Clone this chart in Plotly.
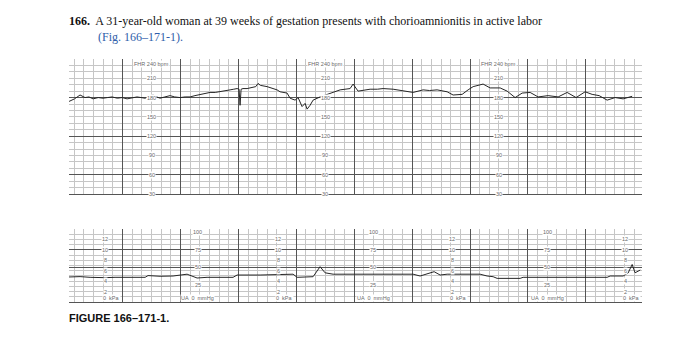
import plotly.graph_objects as go

# ---------------- data ----------------
# time in minutes, FHR in bpm
fhr_time = [-0.924, -0.83, -0.734, -0.648, -0.58, -0.509, -0.42, -0.337, -0.26, -0.181, -0.09, -0.009,
            0.078, 0.16, 0.250, 0.32, 0.389, 0.46, 0.527, 0.59, 0.648, 0.73, 0.820, 0.90, 0.993,
            1.08, 1.166, 1.25, 1.339, 1.42, 1.511, 1.60, 1.684, 1.77, 1.857, 1.92, 1.978, 2.012, 2.029,
            2.047, 2.08, 2.150, 2.254, 2.300, 2.340, 2.380, 2.496, 2.668, 2.720, 2.841, 2.893, 2.979,
            3.031, 3.100, 3.152, 3.187, 3.238, 3.290, 3.411, 3.584, 3.757, 3.929, 3.981, 4.067, 4.17,
            4.275, 4.40, 4.499, 4.672, 4.80, 4.914, 5.017, 5.190, 5.30, 5.432, 5.605, 5.708, 5.864,
            5.967, 6.054, 6.226, 6.347, 6.520, 6.641, 6.779, 6.900, 7.038, 7.176, 7.349, 7.522,
            7.677, 7.832, 7.988, 8.109, 8.230, 8.368, 8.506, 8.644, 8.800]
fhr_bpm = [174, 178, 184, 180, 181, 178, 180, 179, 180, 181, 179, 180,
           178, 180, 181, 180, 179, 182, 184, 181, 179, 181, 183, 181, 180,
           181, 181, 183, 185, 186, 188, 188, 189, 190, 192, 193, 194, 193, 168,
           193, 194, 194, 196, 197, 202, 199, 197, 192, 189, 187, 179, 176,
           180, 166, 171, 162, 168, 176, 181, 187, 192, 194, 201, 190, 192,
           193, 193, 194, 193, 191, 189, 188, 192, 191, 192, 189, 184, 185,
           192, 197, 201, 195, 195, 190, 180, 187, 188, 181, 183, 181,
           188, 180, 189, 185, 183, 176, 180, 178, 182]

# uterine activity in mmHg
ua_time = [-0.924, -0.734, -0.561, -0.389, -0.302, -0.130, 0.389, 0.440, 0.648, 0.872, 1.114,
           1.287, 1.459, 1.908, 1.978, 2.375, 2.720, 2.945, 3.014, 3.290, 3.411, 3.497, 3.636,
           4.30, 5.017, 5.138, 5.380, 5.484, 5.605, 6.174, 6.295, 6.399, 6.468, 6.865, 6.917,
           8.368, 8.420, 8.644, 8.730, 8.800, 8.850, 8.940]
ua_mmhg = [36, 36.5, 35.5, 34.5, 35, 35.5, 35.5, 38, 37, 37.4, 40,
           34.5, 35.5, 35.5, 38.8, 38.8, 40, 40, 35.5, 36.4, 50.8, 42, 40,
           40, 40, 37.4, 43.6, 38.8, 40, 40, 37.4, 36.4, 34, 34, 35.5,
           35.5, 37.4, 37.4, 41.7, 54, 42, 46]

fhr_label_times = [0.5, 3.5, 6.5]
fhr_label_values = [210, 180, 150, 120, 90, 60, 30]
kpa_label_times = [-0.30, 2.69, 5.69, 8.68]
kpa_label_values = [12, 10, 8, 6, 4, 2]
mmhg_label_times = [1.30, 4.33, 7.33]
mmhg_label_values = [100, 75, 50, 25]

W, H = 700, 358
X0, X1 = 69, 642
T_RANGE = [-0.925, 8.97]

def py(px):
    return 1 - px / H

fig = go.Figure()
fig.add_trace(go.Scatter(x=fhr_time, y=fhr_bpm, mode="lines",
                         line=dict(color="#262626", width=1), xaxis="x", yaxis="y",
                         hoverinfo="skip", showlegend=False))
fig.add_trace(go.Scatter(x=ua_time, y=ua_mmhg, mode="lines",
                         line=dict(color="#262626", width=1), xaxis="x2", yaxis="y2",
                         hoverinfo="skip", showlegend=False))

major_c = "#555555"
minor_c = "#c6c6c6"

xcommon = dict(range=T_RANGE, tickmode="linear", tick0=0, dtick=1, showgrid=True,
               gridcolor=major_c, gridwidth=1, showticklabels=False, zeroline=False,
               ticks="", showline=True, linecolor=major_c, linewidth=1,
               minor=dict(tick0=0, dtick=1/6, showgrid=True, gridcolor=minor_c, gridwidth=1, ticks=""))

fig.update_layout(
    width=W, height=H, margin=dict(l=0, r=0, t=0, b=0),
    paper_bgcolor="white", plot_bgcolor="white", showlegend=False,
    xaxis=dict(domain=[X0 / W, X1 / W], anchor="y", **xcommon),
    yaxis=dict(domain=[py(194), py(59)], range=[30, 240], tickmode="array",
               tickvals=[60, 120, 180, 240], showgrid=True, gridcolor=major_c, gridwidth=1,
               showticklabels=False, zeroline=False, ticks="",
               minor=dict(tick0=0, dtick=10, showgrid=True, gridcolor=minor_c, gridwidth=1, ticks="")),
    xaxis2=dict(domain=[X0 / W, X1 / W], anchor="y2", **xcommon),
    yaxis2=dict(domain=[py(302), py(229)], range=[0, 105], tickmode="array",
                tickvals=[50, 75, 105], showgrid=True, gridcolor=major_c, gridwidth=1,
                showticklabels=False, zeroline=False, ticks="",
                minor=dict(tick0=0, dtick=7.5, showgrid=True, gridcolor=minor_c, gridwidth=1, ticks="")),
)

lab_font = dict(family="Liberation Sans, Arial, sans-serif", size=5.5, color="#6a6a6a")
ann = []
for t in fhr_label_times:
    ann.append(dict(x=t, y=240, xref="x", yref="y", text="FHR 240 bpm", showarrow=False,
                    xanchor="center", yanchor="top", yshift=-1, font=lab_font, bgcolor="white",
                    borderpad=0))
    for v in fhr_label_values:
        ann.append(dict(x=t, y=v, xref="x", yref="y", text=str(v), showarrow=False,
                        xanchor="center", yanchor="middle", font=lab_font, bgcolor="white",
                        borderpad=0))
for t in kpa_label_times:
    for v in kpa_label_values:
        ann.append(dict(x=t, y=v * 7.5, xref="x2", yref="y2", text=str(v), showarrow=False,
                        xanchor="center", yanchor="middle", font=lab_font, bgcolor="white",
                        borderpad=0))
    ann.append(dict(x=t, y=0, xref="x2", yref="y2", text="0  kPa", showarrow=False,
                    xanchor="left", xshift=-3, yanchor="bottom", font=lab_font, bgcolor="white",
                    borderpad=0))
for t in mmhg_label_times:
    for v in mmhg_label_values:
        ann.append(dict(x=t, y=v, xref="x2", yref="y2", text=str(v), showarrow=False,
                        xanchor="center", yanchor="middle", font=lab_font, bgcolor="white",
                        borderpad=0))
    ann.append(dict(x=t, y=0, xref="x2", yref="y2", text="UA  0  mmHg", showarrow=False,
                    xanchor="center", yanchor="bottom", font=lab_font, bgcolor="white",
                    borderpad=0))

serif = "Liberation Serif, Times New Roman, serif"
ann.append(dict(x=67 / W, y=py(21), xref="paper", yref="paper", showarrow=False,
                xanchor="left", yanchor="middle",
                text="<b>166.</b>  A 31-year-old woman at 39 weeks of gestation presents with chorioamnionitis in active labor",
                font=dict(family=serif, size=12, color="#111111")))
ann.append(dict(x=96 / W, y=py(37), xref="paper", yref="paper", showarrow=False,
                xanchor="left", yanchor="middle", text="(Fig. 166\u2013171-1).",
                font=dict(family=serif, size=12, color="#2f5eaa")))
ann.append(dict(x=67 / W, y=py(318), xref="paper", yref="paper", showarrow=False,
                xanchor="left", yanchor="middle", text="<b>FIGURE 166\u2013171-1.</b>",
                font=dict(family="Liberation Sans, Arial, sans-serif", size=11, color="#111111")))

fig.update_layout(annotations=ann)
fig.write_html("out.html")
